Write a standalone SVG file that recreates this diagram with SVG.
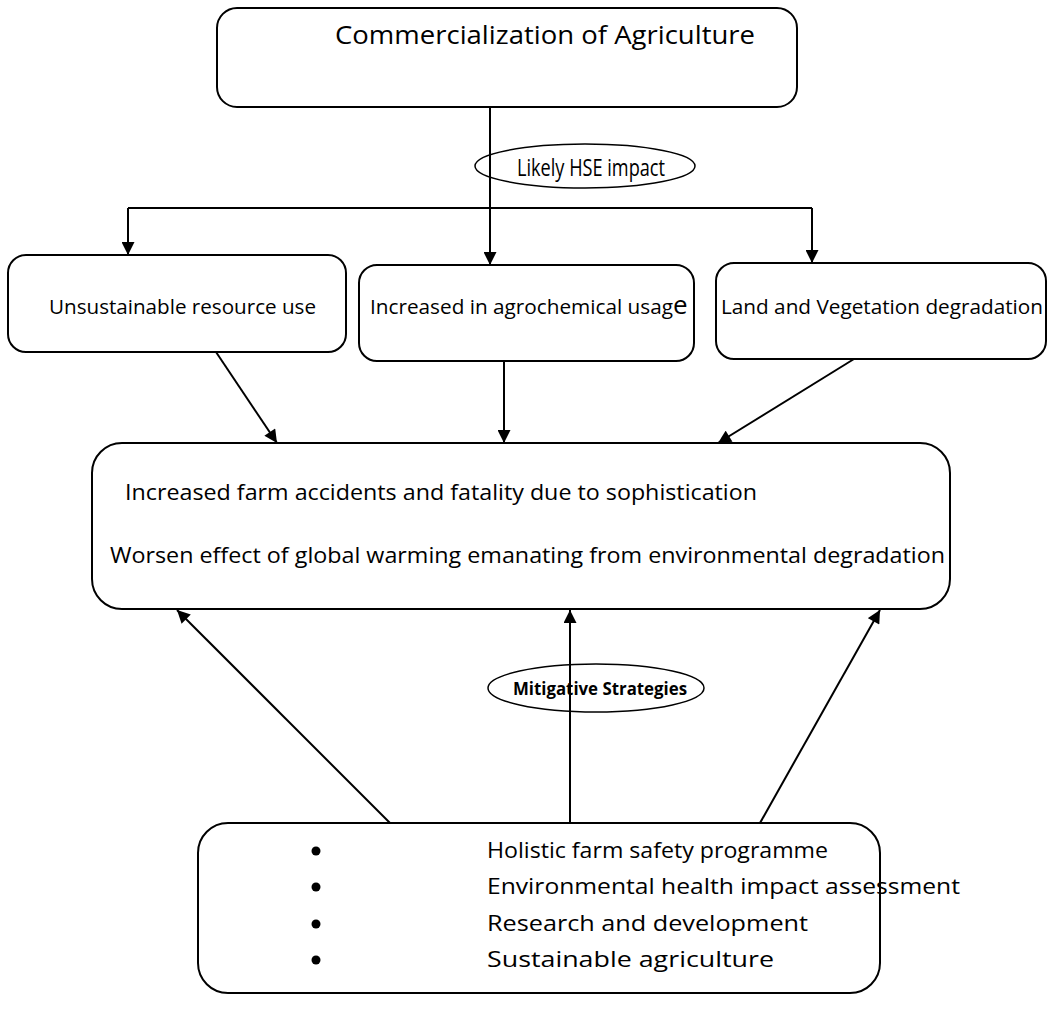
<svg xmlns="http://www.w3.org/2000/svg" width="1047" height="1021" viewBox="0 0 1047 1021">
<defs>
<marker id="ah" viewBox="0 0 10 10" refX="10" refY="5" markerWidth="14" markerHeight="13" markerUnits="userSpaceOnUse" orient="auto">
<path d="M0,0 L10,5 L0,10 z" fill="#000"/>
</marker>
<style>
.box{fill:#fff;stroke:#000;stroke-width:2}
.ell{fill:#fff;stroke:#000;stroke-width:1.5}
.t{font-family:"Open Sans","Noto Sans","Liberation Sans",sans-serif;fill:#000}
.c{stroke:#000;stroke-width:2;fill:none}
.ca{stroke:#000;stroke-width:2;fill:none;marker-end:url(#ah)}
</style>
</defs>
<rect width="1047" height="1021" fill="#fff"/>
<g id="n-commercialization">
<rect class="box" x="217" y="8" width="580" height="99" rx="20"/>
<text class="t" x="335" y="44" font-size="25" textLength="420" lengthAdjust="spacingAndGlyphs">Commercialization of Agriculture</text>
</g>
<g id="n-hse">
<ellipse class="ell" cx="585" cy="166" rx="110" ry="22"/>
<text class="t" x="517" y="176" font-size="23" textLength="148" lengthAdjust="spacingAndGlyphs">Likely HSE impact</text>
</g>
<g id="n-unsustainable">
<rect class="box" x="8" y="255" width="338" height="97" rx="18"/>
<text class="t" x="49" y="314" font-size="19.5" textLength="267" lengthAdjust="spacingAndGlyphs">Unsustainable resource use</text>
</g>
<g id="n-agrochemical">
<rect class="box" x="359" y="265" width="335" height="96" rx="18"/>
<text class="t" x="370" y="314" font-size="19.5"><tspan textLength="303" lengthAdjust="spacingAndGlyphs">Increased in agrochemical usag</tspan><tspan font-size="26">e</tspan></text>
</g>
<g id="n-land">
<rect class="box" x="716" y="263" width="330" height="96" rx="18"/>
<text class="t" x="721" y="314" font-size="19.5" textLength="322" lengthAdjust="spacingAndGlyphs">Land and Vegetation degradation</text>
</g>
<g id="n-effects">
<rect class="box" x="92" y="443" width="858" height="166" rx="30"/>
<text class="t" x="125" y="500" font-size="22" textLength="632" lengthAdjust="spacingAndGlyphs">Increased farm accidents and fatality due to sophistication</text>
<text class="t" x="110" y="563" font-size="22" textLength="835" lengthAdjust="spacingAndGlyphs">Worsen effect of global warming emanating from environmental degradation</text>
</g>
<g id="n-mitigative">
<ellipse class="ell" cx="596" cy="688" rx="108" ry="24"/>
<text class="t" x="513" y="695" font-size="18" font-weight="bold" textLength="174" lengthAdjust="spacingAndGlyphs">Mitigative Strategies</text>
</g>
<g id="n-strategies">
<rect class="box" x="198" y="823" width="682" height="170" rx="30"/>
<g class="t" font-size="21.5">
<circle cx="316" cy="851" r="4.5"/>
<circle cx="316" cy="887" r="4.5"/>
<circle cx="316" cy="924" r="4.5"/>
<circle cx="316" cy="960" r="4.5"/>
<text x="487" y="858" textLength="341" lengthAdjust="spacingAndGlyphs">Holistic farm safety programme</text>
<text x="487" y="894" textLength="473" lengthAdjust="spacingAndGlyphs">Environmental health impact assessment</text>
<text x="487" y="931" textLength="321" lengthAdjust="spacingAndGlyphs">Research and development</text>
<text x="487" y="967" textLength="287" lengthAdjust="spacingAndGlyphs">Sustainable agriculture</text>
</g>
</g>
<g id="connectors">
<line class="ca" x1="490" y1="107" x2="490" y2="265"/>
<polyline class="c" points="128,208 812,208"/>
<line class="ca" x1="128" y1="208" x2="128" y2="255"/>
<line class="ca" x1="812" y1="208" x2="812" y2="263"/>
<line class="ca" x1="216" y1="352" x2="277" y2="443"/>
<line class="ca" x1="504" y1="361" x2="504" y2="443"/>
<line class="ca" x1="854" y1="359" x2="718" y2="443"/>
<line class="ca" x1="390" y1="823" x2="177" y2="610"/>
<line class="ca" x1="570" y1="823" x2="570" y2="610"/>
<line class="ca" x1="760" y1="823" x2="880" y2="610"/>
</g>
</svg>
